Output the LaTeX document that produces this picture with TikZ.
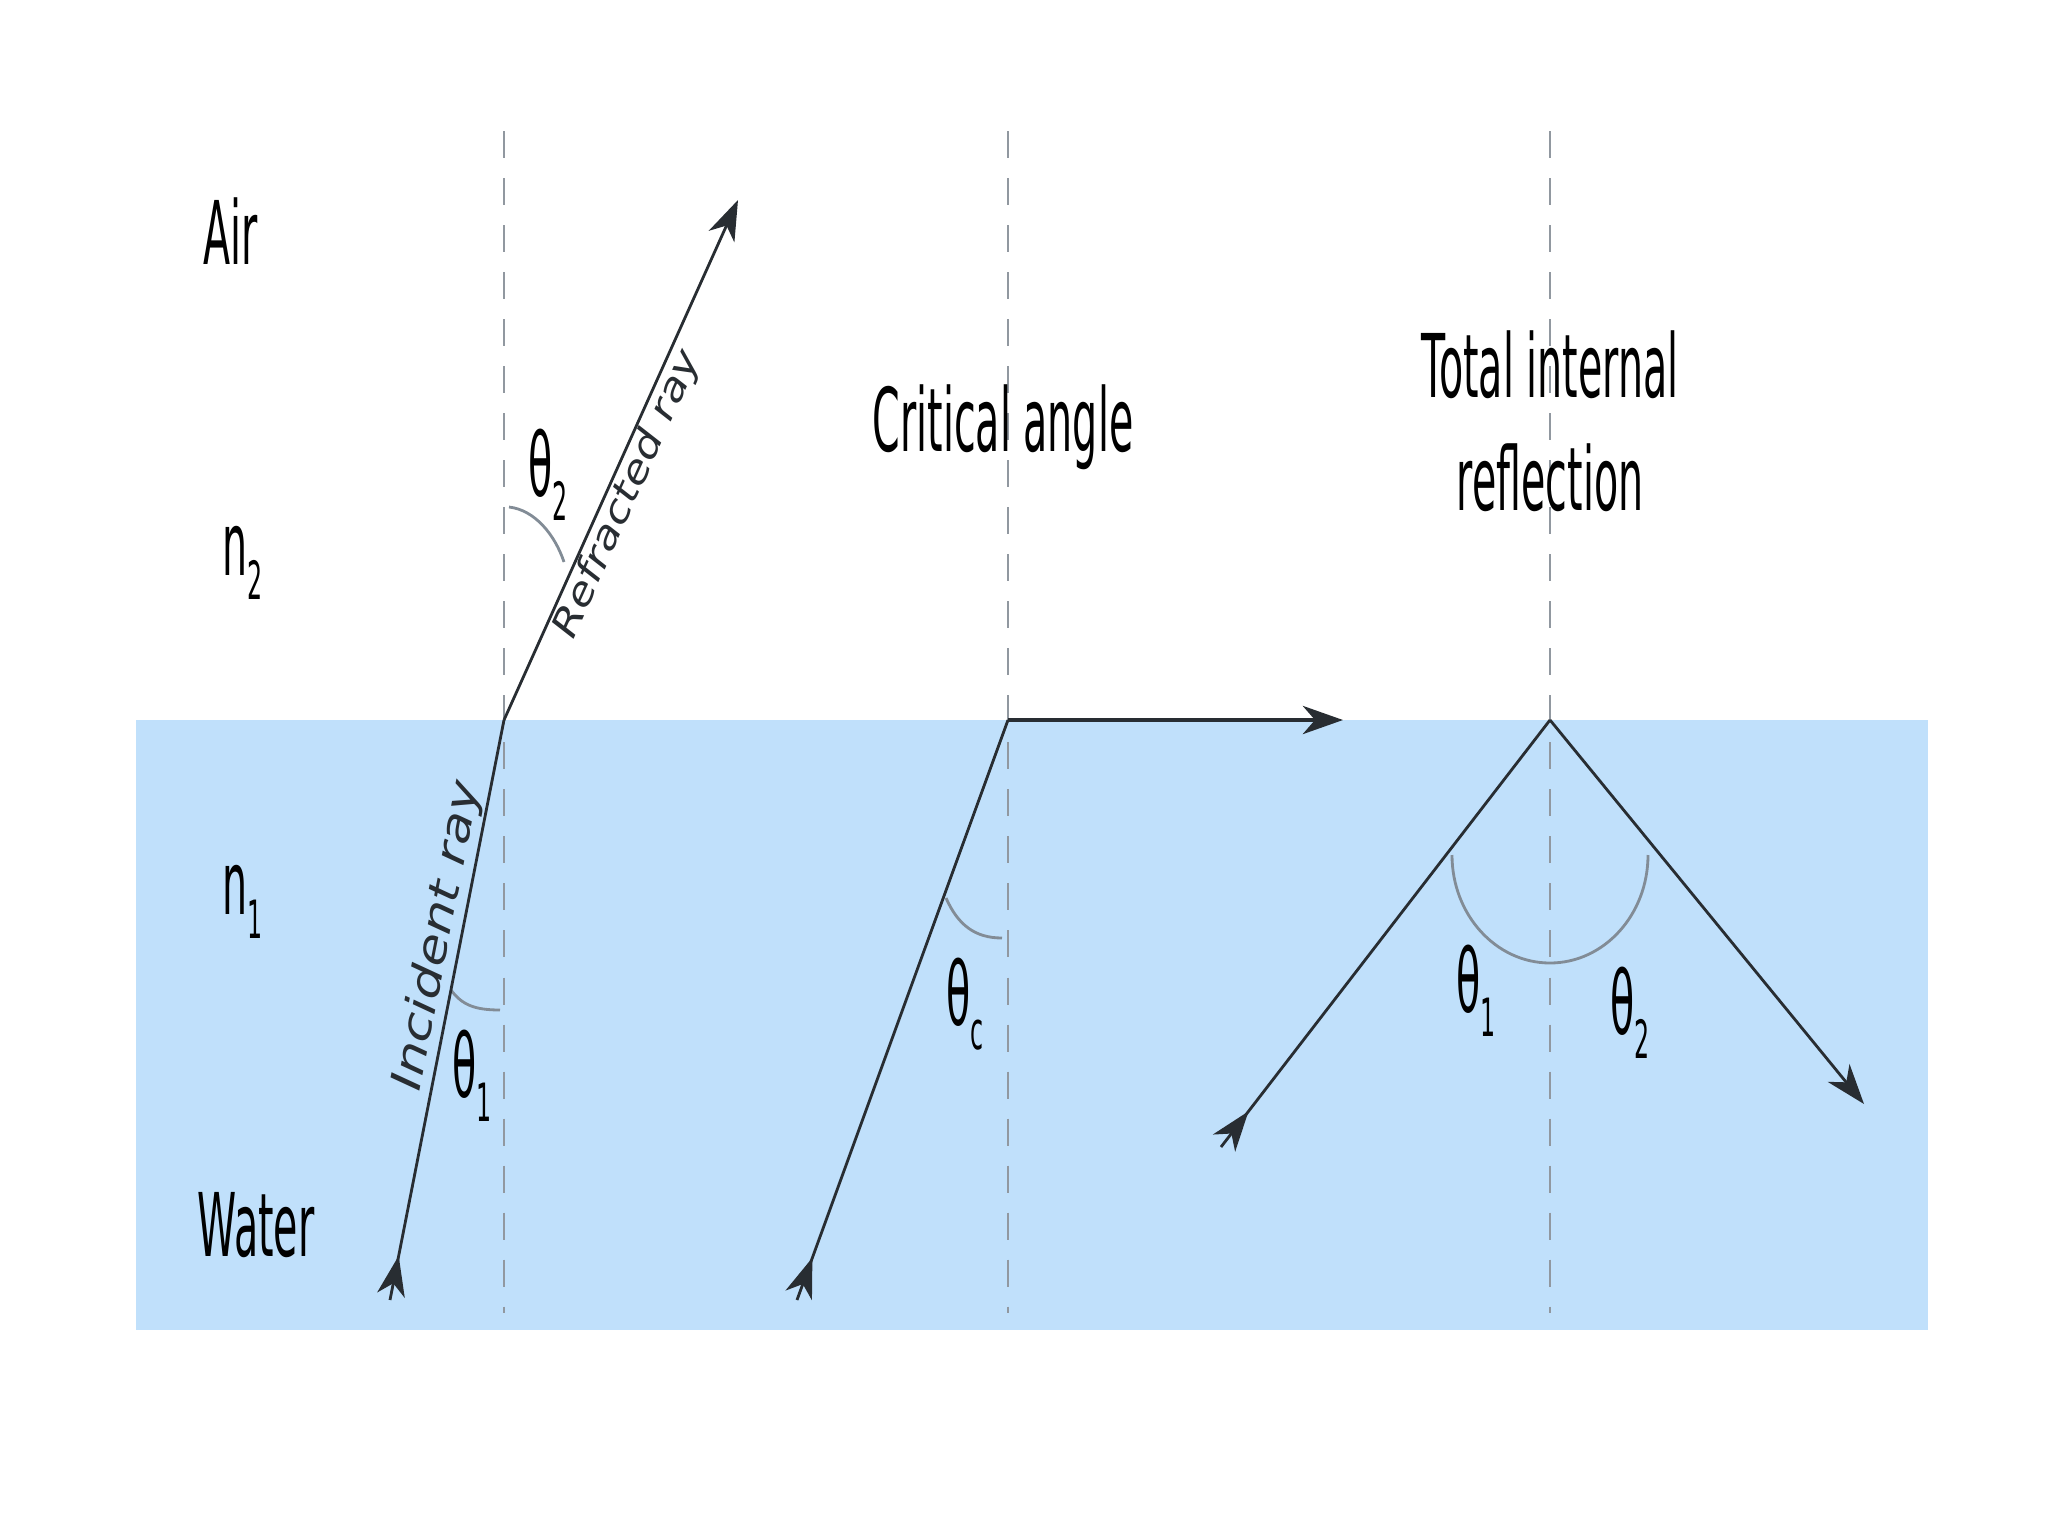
\documentclass[tikz,border=0pt]{standalone}
\usepackage{fontspec}
\setmainfont{DejaVu Sans}
\usetikzlibrary{arrows.meta,decorations.markings}
\definecolor{water}{RGB}{192,224,251}
\definecolor{raygray}{RGB}{40,45,50}
\definecolor{arcgray}{RGB}{130,140,150}
\definecolor{normalgray}{RGB}{145,152,160}
\newcommand{\lowsub}[1]{\raisebox{-7pt}{\fontsize{15}{15}\selectfont #1}}
\tikzset{
  ray/.style={color=raygray, line width=0.8pt},
  rayend/.style={ray, -{Stealth[length=4mm,width=2.8mm,inset=1.2mm]}},
  raystart/.style={ray, postaction={decorate},
    decoration={markings, mark=at position 4.5mm with {\arrow{Stealth[length=4mm,width=2.8mm,inset=1.2mm]}}}},
  normal/.style={draw=normalgray, line width=0.8pt, dash pattern=on 2.7mm off 2mm},
  anglearc/.style={draw=arcgray, line width=0.8pt},
  medium/.style={inner sep=0pt, font=\fontsize{25}{32}\selectfont, xscale=0.45},
  raytext/.style={inner sep=0.5pt, sloped, yscale=0.8, font=\itshape\fontsize{13}{13}\selectfont},
}
\begin{document}
\begin{tikzpicture}[x=0.01cm,y=-0.01cm]
\useasboundingbox (0,0) rectangle (2048,1536);
% water
\fill[water] (136,720) rectangle (1928,1330);
% points on the surface
\coordinate (P1) at (504,720);
\coordinate (P2) at (1008,720);
\coordinate (P3) at (1550,720);
\coordinate (inc) at (390,1300);
\coordinate (refr) at (738,200);
\coordinate (critstart) at (797,1300);
\coordinate (graze) at (1343,720);
\coordinate (tirin) at (1221,1147);
\coordinate (tirout) at (1864,1104);
% normals
\draw[normal] (504,131) -- (504,1313);
\draw[normal] (1008,131) -- (1008,1313);
\draw[normal] (1550,131) -- (1550,1313);
% angles
\draw[anglearc] (509,507) .. controls (535,510) and (555,535) .. (564,562);
\draw[anglearc] (451,990) .. controls (462,1005) and (475,1010) .. (500,1010);
\draw[anglearc] (946,898) .. controls (958,925) and (975,938) .. (1002,938);
\draw[anglearc] (1452,855) arc[start angle=180, end angle=0, x radius=98, y radius=108];
% rays
\draw[raystart] (inc) -- (P1)
  node[raytext, above, pos=0.62, font=\itshape\fontsize{15}{15}\selectfont] (inclabel) {Incident ray};
\draw[rayend] (P1) -- (refr) node[raytext, below, pos=0.45] (refrlabel) {Refracted ray};
\draw[raystart] (critstart) -- (P2);
\draw[rayend, line width=1.4pt] (P2) -- (graze);
\draw[raystart] (tirin) -- (P3);
\draw[rayend] (P3) -- (tirout);
% labels
\node[medium, anchor=base] (air) at (231,264) {Air};
\node[medium, anchor=base west] (n2) at (222,575) {n\lowsub{2}};
\node[medium, anchor=base west] (n1) at (222,914) {n\lowsub{1}};
\node[medium, anchor=base] (water) at (256,1256) {Water};
\node[medium, anchor=base] (crit) at (1003,451) {Critical angle};
\node[medium, align=center] (tir) at (1550,421) {Total internal\\reflection};
\node[medium, anchor=base west] (t2) at (528,496) {θ\lowsub{2}};
\node[medium, anchor=base west] (t1) at (452,1097) {θ\lowsub{1}};
\node[medium, anchor=base west] (tc) at (946,1025) {θ\lowsub{c}};
\node[medium, anchor=base west] (tirt1) at (1456,1012) {θ\lowsub{1}};
\node[medium, anchor=base west] (tirt2) at (1610,1034) {θ\lowsub{2}};
\end{tikzpicture}
\end{document}
